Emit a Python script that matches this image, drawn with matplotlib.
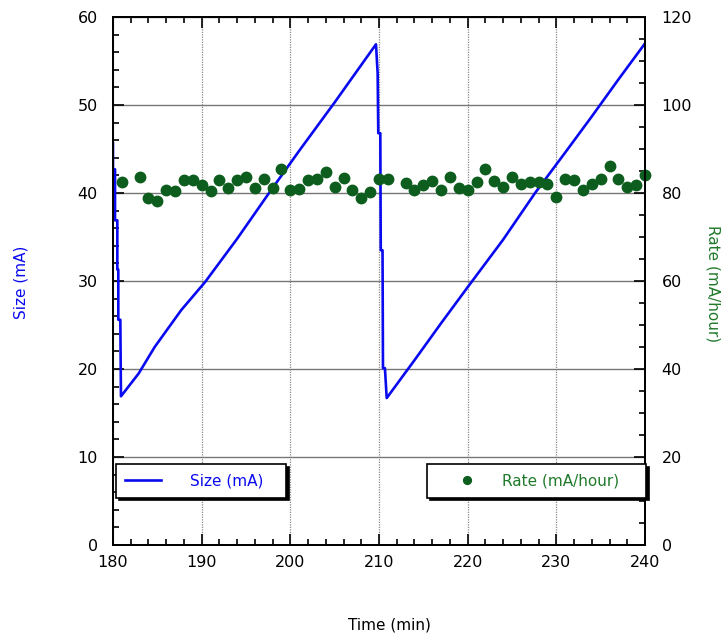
import matplotlib.pyplot as plt
from matplotlib.ticker import MultipleLocator

plt.rcParams['font.family'] = 'DejaVu Sans'

# Size trace (mA): fast drop, slow ramp, repeated
size_time = [180.0, 180.0, 180.23, 180.23, 180.49, 180.49, 180.6, 180.6, 180.83, 180.9,
             182.9, 184.7, 187.7, 190.4, 194.0, 197.6, 201.0, 205.0, 209.66,
             209.85, 209.92, 210.15, 210.2, 210.4, 210.45, 210.67, 210.87,
             214.0, 217.0, 220.0, 224.0, 227.6, 231.0, 234.0, 237.0, 240.0]
size_ma = [45.6, 42.7, 42.7, 36.9, 36.9, 31.3, 31.3, 25.6, 25.6, 16.9,
           19.5, 22.5, 26.7, 29.9, 34.8, 40.0, 44.8, 50.3, 56.9,
           53.6, 46.8, 46.8, 33.5, 33.5, 20.1, 20.1, 16.7,
           21.0, 25.2, 29.3, 34.7, 40.0, 44.6, 48.7, 52.9, 57.0]

# Rate samples (mA/hour), one per minute
rate_time = [181] + list(range(183, 212)) + list(range(213, 241))
rate = [82.6, 83.6, 78.9, 78.3, 80.8, 80.5, 82.9, 82.9, 81.8, 80.5,
        83.0, 81.2, 82.9, 83.6, 81.2, 83.3, 81.1, 85.4, 80.8, 80.9,
        83.0, 83.3, 84.8, 81.4, 83.5, 80.8, 78.9, 80.2, 83.3, 83.3,
        82.2, 80.8, 81.8, 82.7, 80.8, 83.6, 81.1, 80.7, 82.6, 85.4,
        82.7, 81.4, 83.6, 82.0, 82.6, 82.6, 82.0, 79.0, 83.3, 83.0,
        80.8, 82.0, 83.1, 86.1, 83.3, 81.4, 81.8, 84.0]

blue = '#0a0af0'
green = '#0d5e1e'

fig = plt.figure(figsize=(7.27, 6.4), dpi=100)
ax = fig.add_axes([0.1554, 0.1484, 0.7318, 0.825])
ax2 = ax.twinx()

size_line, = ax.plot(size_time, size_ma, color=blue, lw=1.9, label='Size (mA)')
rate_pts, = ax2.plot(rate_time, rate, 'o', color=green, ms=7.5, clip_on=False,
                     label='Rate (mA/hour)')

ax.set_xlim(180, 240)
ax.set_ylim(0, 60)
ax2.set_ylim(0, 120)

ax.xaxis.set_major_locator(MultipleLocator(10))
ax.xaxis.set_minor_locator(MultipleLocator(2))
ax.yaxis.set_major_locator(MultipleLocator(10))
ax.yaxis.set_minor_locator(MultipleLocator(2))
ax2.yaxis.set_major_locator(MultipleLocator(20))
ax2.yaxis.set_minor_locator(MultipleLocator(5))

ax.tick_params(which='both', direction='in', top=True, right=False, width=1.2,
               labelsize=11.5)
ax.tick_params(which='major', length=8)
ax.tick_params(which='minor', length=4.5)
ax.tick_params(axis='y', pad=11)
ax.tick_params(axis='x', pad=7)
ax2.tick_params(which='both', direction='in', width=1.2, labelsize=11.5, pad=12)
ax2.tick_params(which='major', length=8)
ax2.tick_params(which='minor', length=4.5)

for sp in list(ax.spines.values()) + list(ax2.spines.values()):
    sp.set_linewidth(1.3)

# grid: dotted verticals, solid horizontals
ax.xaxis.grid(True, linestyle=(0, (1, 1)), color='#888888', lw=0.9)
ax.yaxis.grid(True, linestyle='-', color='#777777', lw=1.0)
ax.set_axisbelow(True)

ax.set_xlabel('Time (min)', fontsize=11)
ax.xaxis.set_label_coords(0.52, -0.138)
ax.set_ylabel('Size (mA)', color=blue, fontsize=11)
ax.yaxis.set_label_coords(-0.158, 0.498)
ax2.set_ylabel('Rate (mA/hour)', color='#217a2b', fontsize=11, rotation=270)
ax2.yaxis.set_label_coords(1.142, 0.496)

shadow = {'color': 'black', 'alpha': 1.0}
leg1 = ax2.legend(handles=[size_line], loc='lower left',
                  bbox_to_anchor=(0.0056, 0.09, 0.32, 0.065), mode='expand',
                  fancybox=False, edgecolor='black', framealpha=1, shadow=shadow,
                  fontsize=11, handlelength=2.35, handletextpad=1.9,
                  borderpad=0.6, borderaxespad=0, labelcolor=blue)
leg1.get_frame().set_linewidth(1.2)
ax2.add_artist(leg1)
leg2 = ax2.legend(handles=[rate_pts], loc='lower left',
                  bbox_to_anchor=(0.590, 0.09, 0.412, 0.065), mode='expand',
                  fancybox=False, edgecolor='black', framealpha=1, shadow=shadow,
                  fontsize=11, handlelength=4.0, handletextpad=0.35,
                  borderpad=0.6, borderaxespad=0, numpoints=1,
                  labelcolor='#217a2b', markerscale=0.75)
leg2.get_frame().set_linewidth(1.2)
leg2.set_clip_on(False)

fig.savefig('out.png', dpi=100)
